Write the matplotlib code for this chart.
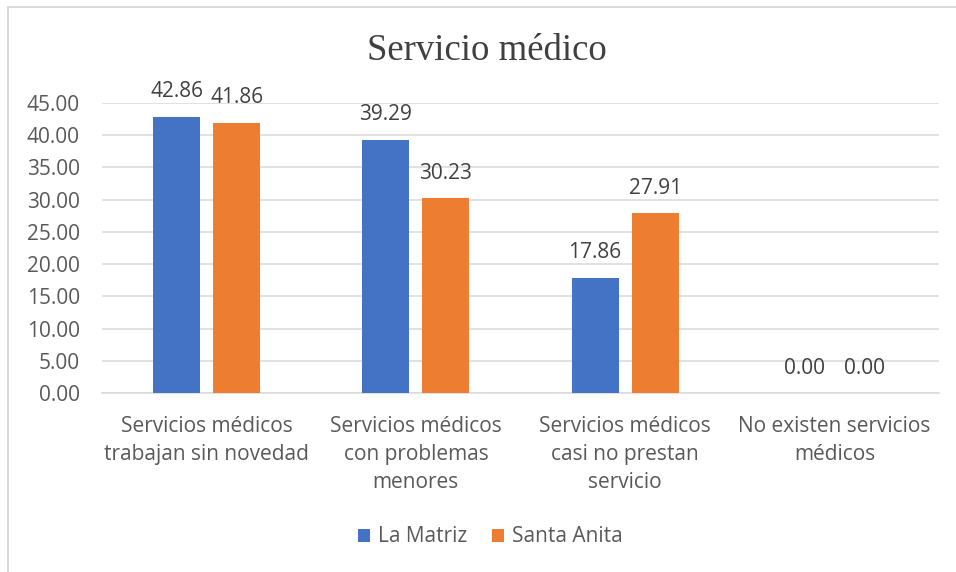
import matplotlib
matplotlib.use("Agg")
import matplotlib.pyplot as plt
import numpy as np
from matplotlib.lines import Line2D

categories = ["Servicios médicos\ntrabajan sin novedad",
              "Servicios médicos\ncon problemas\nmenores",
              "Servicios médicos\ncasi no prestan\nservicio",
              "No existen servicios\nmédicos"]
la_matriz = [42.86, 39.29, 17.86, 0.00]
santa_anita = [41.86, 30.23, 27.91, 0.00]
series_names = ["La Matriz", "Santa Anita"]
yticks = [0, 5, 10, 15, 20, 25, 30, 35, 40, 45]

plt.rcParams['font.family'] = ['Open Sans', 'DejaVu Sans']

W, H = 956, 572
fig = plt.figure(figsize=(W / 100, H / 100), dpi=100)
ax = fig.add_axes([102 / W, 1 - 393.3 / H, (939 - 102) / W, (393.3 - 102.7) / H])

x = np.arange(len(categories))
bw = 0.2246
off = 0.1434
blue = "#4472C4"
orange = "#ED7D31"
b1 = ax.bar(x - off, la_matriz, bw, color=blue, label=series_names[0], zorder=3)
b2 = ax.bar(x + off, santa_anita, bw, color=orange, label=series_names[1], zorder=3)

fs = 15
for bars, vals in ((b1, la_matriz), (b2, santa_anita)):
    for r, v in zip(bars, vals):
        ax.annotate(f"{v:.2f}", (r.get_x() + r.get_width() / 2, v),
                    xytext=(0, 18), textcoords="offset points",
                    ha="center", va="center", fontsize=fs, color="#404040")

ax.set_xlim(-0.5, len(categories) - 0.5)
ax.set_ylim(0, 45)
ax.set_yticks(yticks)
ax.set_yticklabels([f"{t:.2f}" for t in yticks])
ax.set_xticks(x)
ax.set_xticklabels(categories, linespacing=1.45)
ax.tick_params(axis="y", length=0, pad=16, labelsize=fs, labelcolor="#595959")
ax.tick_params(axis="x", length=0, pad=16, labelsize=fs, labelcolor="#595959")
ax.grid(axis="y", color="#D9D9D9", linewidth=1.1, zorder=0)
for s in ("top", "right", "left"):
    ax.spines[s].set_visible(False)
ax.spines["bottom"].set_color("#D9D9D9")
ax.spines["bottom"].set_linewidth(1.1)

fig.text(487 / W, 1 - 51 / H, "Servicio médico", ha="center", va="center",
         fontsize=26.5, family="Liberation Serif", color="#404040")

fig.legend(handles=[b1, b2], labels=series_names, loc="center",
           bbox_to_anchor=(490 / W, 1 - 537 / H), ncol=2, frameon=False,
           fontsize=fs, labelcolor="#595959", handlelength=0.6, handleheight=0.6,
           handletextpad=0.35, columnspacing=1.2)

# chart border (top and left visible)
fig.add_artist(Line2D([7.5 / W, 1.0], [1 - 6.5 / H, 1 - 6.5 / H], transform=fig.transFigure,
                      color="#D9D9D9", linewidth=1.4))
fig.add_artist(Line2D([7.5 / W, 7.5 / W], [0, 1 - 6.5 / H], transform=fig.transFigure,
                      color="#D9D9D9", linewidth=1.4))

fig.savefig("out.png", dpi=100, facecolor="white")
